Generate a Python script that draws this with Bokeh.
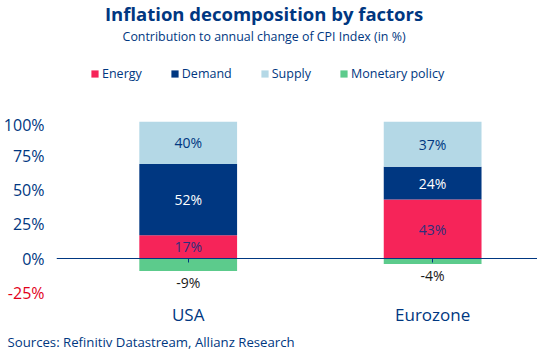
from bokeh.plotting import figure
from bokeh.layouts import column
from bokeh.models import (Range1d, FixedTicker, LinearAxis, Legend, LegendItem,
                          Label, Title, ColumnDataSource)
from bokeh.core.properties import value
from bokeh.embed import file_html
from bokeh.resources import INLINE
import numpy as np

# ---------------- data ----------------
regions = ["USA", "Eurozone"]
energy = [17, 43]
demand = [52, 24]
supply = [40, 37]
monetary = [-9, -4]
series_names = ["Energy", "Demand", "Supply", "Monetary policy"]
colors = ["#F62459", "#003781", "#B4D8E6", "#5CCB8C"]
y_ticks = [-25, 0, 25, 50, 75, 100]

title_text = "Inflation decomposition by factors"
subtitle_text = "Contribution to annual change of CPI Index (in %)"
source_text = "Sources: Refinitiv Datastream, Allianz Research"

# ---------------- style ----------------
BLUE = "#003781"
RED = "#E2001A"
FONT = "Open Sans"
Y_MIN, Y_MAX = -25.5, 100
W = 537
H_HEAD, H_MAIN = 113, 239


def bare(fig):
    fig.outline_line_color = None
    fig.grid.visible = False
    fig.background_fill_color = "white"
    fig.border_fill_color = "white"
    return fig


# ---------------- header: titles + legend ----------------
head = bare(figure(width=W, height=H_HEAD, x_range=Range1d(46, 528), y_range=Range1d(H_HEAD, 0),
                   output_backend="svg", toolbar_location=None, x_axis_location=None,
                   y_axis_location=None, min_border=0, min_border_left=0, min_border_right=0,
                   min_border_top=0, min_border_bottom=0))
head.add_layout(Label(x=254, y=13, text=title_text, text_align="center", text_baseline="middle",
                      text_color=BLUE, text_font=FONT, text_font_size="18.5px",
                      text_font_style="bold"))
head.add_layout(Label(x=254, y=36, text=subtitle_text, text_align="center",
                      text_baseline="middle", text_color=BLUE, text_font=FONT,
                      text_font_size="12.4px"))
dummies = [head.vbar(x=[np.nan], top=[np.nan], width=1, fill_color=c, line_color=None)
           for c in colors]
legend = Legend(items=[LegendItem(label=n, renderers=[r]) for n, r in zip(series_names, dummies)],
                orientation="horizontal", location=(34, 31), border_line_color=None,
                background_fill_alpha=0, label_text_font=FONT, label_text_font_size="12.5px",
                label_text_color=BLUE, glyph_width=9, glyph_height=9, label_standoff=3,
                spacing=28, padding=0, margin=0, label_height=9)
head.add_layout(legend, "center")

# ---------------- main chart ----------------
x = np.arange(len(regions)) + 0.5

p = bare(figure(width=W, height=H_MAIN, x_range=Range1d(-0.0388, 1.929),
                y_range=Range1d(Y_MIN, Y_MAX), output_backend="svg", toolbar_location=None,
                x_axis_location=None, y_axis_location=None,
                min_border_left=40, min_border_right=0, min_border_top=8, min_border_bottom=40))

e = np.array(energy, float)
d = np.array(demand, float)
s = np.array(supply, float)
m = np.array(monetary, float)
segments = [(e * 0, e), (e, e + d), (e + d, e + d + s), (m, m * 0)]

for (bot, top), col in zip(segments, colors):
    p.vbar(x=x, bottom=bot, top=top, width=0.4, fill_color=col, line_color=None)

label_colors = ["#2E2F7C", "white", BLUE]
for (bot, top), vals, tc in zip(segments[:3], [energy, demand, supply], label_colors):
    mid = (np.maximum(bot, Y_MIN) + np.minimum(top, Y_MAX)) / 2
    src = ColumnDataSource(dict(x=x, y=mid, t=[f"{v}%" for v in vals]))
    p.text(x="x", y="y", text="t", source=src, text_align="center", text_baseline="middle",
           text_color=tc, text_font=value(FONT), text_font_size="14px")

src = ColumnDataSource(dict(x=x, y=m, t=[f"{v}%" for v in monetary]))
p.text(x="x", y="y", text="t", source=src, text_align="center", text_baseline="top",
       y_offset=2, text_color="#1a1a1a", text_font=value(FONT), text_font_size="14px")

# zero line with ticks at bar centres
zax = LinearAxis(fixed_location=0, ticker=FixedTicker(ticks=list(x)),
                 axis_line_color=BLUE, axis_line_width=1,
                 major_tick_line_color=BLUE, major_tick_out=4, major_tick_in=0,
                 minor_tick_line_color=None, major_label_text_font_size="0px",
                 major_label_standoff=0)
p.add_layout(zax, "below")

xax = LinearAxis(ticker=FixedTicker(ticks=list(x)),
                 major_label_overrides={float(xi): r for xi, r in zip(x, regions)},
                 axis_line_color=None, major_tick_line_color=None, minor_tick_line_color=None,
                 major_label_text_color=BLUE, major_label_text_font=FONT,
                 major_label_text_font_size="17px", major_label_standoff=3)
p.add_layout(xax, "below")

pos_ticks = [v for v in y_ticks if v >= 0]
neg_ticks = [v for v in y_ticks if v < 0]
yax = LinearAxis(ticker=FixedTicker(ticks=pos_ticks),
                 major_label_overrides={v: f"{v}%" for v in pos_ticks},
                 axis_line_color=None, major_tick_line_color=None, minor_tick_line_color=None,
                 major_tick_out=0, major_tick_in=0,
                 major_label_text_color=BLUE, major_label_text_font=FONT,
                 major_label_text_font_size="16px", major_label_standoff=12)
p.add_layout(yax, "left")
ryax = LinearAxis(ticker=FixedTicker(ticks=neg_ticks),
                  major_label_overrides={v: f"{v}%" for v in neg_ticks},
                  axis_line_color=None, major_tick_line_color=None, minor_tick_line_color=None,
                  major_tick_out=0, major_tick_in=0,
                  major_label_text_color=RED, major_label_text_font=FONT,
                  major_label_text_font_size="16px", major_label_standoff=-44)
p.add_layout(ryax, "left")

p.add_layout(Title(text=source_text, align="left", offset=-49, text_color=BLUE,
                   text_font=FONT, text_font_size="13.2px", text_font_style="normal",
                   standoff=4), "below")

layout = column(head, p, spacing=0)
open("out.html", "w").write(file_html(layout, INLINE))
